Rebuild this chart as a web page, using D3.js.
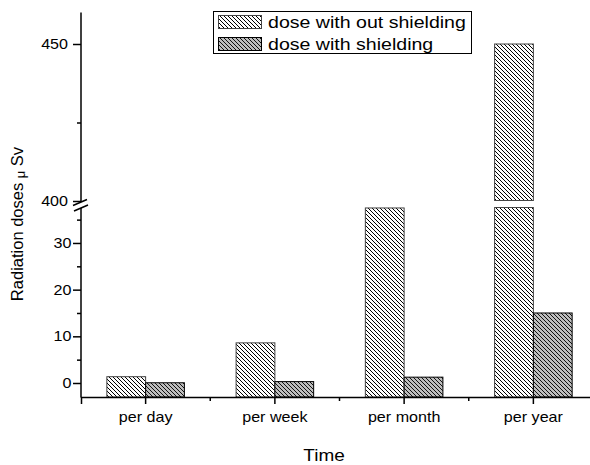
<!DOCTYPE html>
<html>
<head>
<meta charset="utf-8">
<script src="https://cdn.jsdelivr.net/npm/d3@7"></script>
<style>
  body { margin: 0; background: #fff; }
  svg { display: block; font-family: "Liberation Sans", Arial, sans-serif; }
</style>
</head>
<body>
<div id="chart"></div>
<script>
"use strict";

var categories = ["per day", "per week", "per month", "per year"];
var seriesNames = ["dose with out shielding", "dose with shielding"];
var withoutShielding = [1.35, 8.6, 37.5, 450];
var withShielding = [0.05, 0.3, 1.25, 15];
var lowTicks = [0, 10, 20, 30];
var lowMinor = [5, 15, 25, 35];
var highTicks = [400, 450];
var highMinor = [425];

var width = 590, height = 465;
var stretch = 1.15;

var svg = d3.select("#chart").append("svg")
  .attr("width", width)
  .attr("height", height);

var defs = svg.append("defs");

function hatch(id, bg, lineColor) {
  var p = defs.append("pattern")
    .attr("id", id)
    .attr("patternUnits", "userSpaceOnUse")
    .attr("width", 4)
    .attr("height", 4);
  p.append("rect").attr("width", 4).attr("height", 4).attr("fill", bg);
  p.append("path")
    .attr("d", "M-1,-1 L5,5 M-1,3 L1,5 M3,-1 L5,1")
    .attr("stroke", lineColor)
    .attr("stroke-width", 1.1)
    .attr("shape-rendering", "crispEdges");
}
hatch("hatch-white", "#fff", "#000");
hatch("hatch-gray", "#bdbdbd", "#111");

var fills = ["url(#hatch-white)", "url(#hatch-gray)"];
var strokes = ["#444", "#000"];

// x scale
var x = d3.scaleBand().domain(categories).range([81, 598]).padding(0);
var xs = d3.scaleBand().domain(seriesNames).range([x.bandwidth() * 0.2, x.bandwidth() * 0.8]).padding(0);

// broken y axis: low and high segments
var yLow = d3.scaleLinear().domain([-3, 37.6]).range([397, 207.5]);
var yHigh = d3.scaleLinear().domain([400, 460]).range([201, 12.6]);
var lowTop = 37.6, highBottom = 400;

var data = [];
categories.forEach(function(c, i) {
  data.push({cat: c, s: seriesNames[0], v: withoutShielding[i], k: 0});
  data.push({cat: c, s: seriesNames[1], v: withShielding[i], k: 1});
});

var bars = svg.append("g");
// low segment parts
bars.selectAll("rect.low")
  .data(data)
  .enter()
  .append("rect")
  .attr("class", "low")
  .attr("x", function(d) { return x(d.cat) + xs(d.s); })
  .attr("width", xs.bandwidth())
  .attr("y", function(d) { return yLow(Math.min(d.v, lowTop)); })
  .attr("height", function(d) { return yLow(-3) - yLow(Math.min(d.v, lowTop)); })
  .attr("fill", function(d) { return fills[d.k]; })
  .attr("stroke", function(d) { return strokes[d.k]; })
  .attr("stroke-width", 1);

// high segment parts
bars.selectAll("rect.high")
  .data(data.filter(function(d) { return d.v > highBottom; }))
  .enter()
  .append("rect")
  .attr("class", "high")
  .attr("x", function(d) { return x(d.cat) + xs(d.s); })
  .attr("width", xs.bandwidth())
  .attr("y", function(d) { return yHigh(d.v); })
  .attr("height", function(d) { return yHigh(highBottom) - yHigh(d.v) - 0.5; })
  .attr("fill", function(d) { return fills[d.k]; })
  .attr("stroke", function(d) { return strokes[d.k]; })
  .attr("stroke-width", 1);

function stretchText(sel, dx) {
  sel.attr("x", null)
    .attr("transform", "translate(" + dx + ",0) scale(" + stretch + ",1)");
}

// y axes
var gLow = svg.append("g").attr("transform", "translate(81,0)")
  .call(d3.axisLeft(yLow).tickValues(lowTicks).tickSize(8).tickPadding(2));
var gLowMinor = svg.append("g").attr("transform", "translate(81,0)")
  .call(d3.axisLeft(yLow).tickValues(lowMinor).tickSize(4).tickFormat(""));
var gHigh = svg.append("g").attr("transform", "translate(81,0)")
  .call(d3.axisLeft(yHigh).tickValues(highTicks).tickSize(8).tickPadding(2));
var gHighMinor = svg.append("g").attr("transform", "translate(81,0)")
  .call(d3.axisLeft(yHigh).tickValues(highMinor).tickSize(4).tickFormat(""));

[gLow, gLowMinor, gHigh, gHighMinor].forEach(function(g) {
  g.select(".domain").remove();
  g.selectAll("line").attr("stroke", "#000").attr("stroke-width", 1.5);
  g.selectAll("text").attr("font-size", 14).attr("fill", "#000")
    .attr("font-family", "Liberation Sans, Arial, sans-serif");
});
stretchText(gLow.selectAll("text"), -9.5);
stretchText(gHigh.selectAll("text"), -13);

// y axis lines with break
svg.append("line").attr("x1", 81).attr("x2", 81).attr("y1", yHigh(460)).attr("y2", 202)
  .attr("stroke", "#000").attr("stroke-width", 1.5);
svg.append("line").attr("x1", 81).attr("x2", 81).attr("y1", 208).attr("y2", 397.5)
  .attr("stroke", "#000").attr("stroke-width", 1.5);
svg.append("path")
  .attr("d", "M73,205.5 L87,199.5 M74,211 L88,205")
  .attr("stroke", "#000").attr("stroke-width", 1.5).attr("fill", "none");

// x axis
var gx = svg.append("g").attr("transform", "translate(0,397)")
  .call(d3.axisBottom(x).tickSize(7).tickPadding(11));
gx.select(".domain").attr("stroke", "#000").attr("stroke-width", 1.5);
gx.selectAll("line").attr("stroke", "#000").attr("stroke-width", 1.5);
gx.selectAll("text").attr("font-size", 14).attr("fill", "#000")
  .attr("font-family", "Liberation Sans, Arial, sans-serif")
  .attr("y", null).attr("dy", null)
  .attr("transform", "translate(0,24.5) scale(" + stretch + ",1)");

// minor x ticks between categories
svg.append("g").selectAll("line")
  .data(categories.slice(1))
  .enter()
  .append("line")
  .attr("x1", function(d) { return x(d); })
  .attr("x2", function(d) { return x(d); })
  .attr("y1", 397)
  .attr("y2", 401)
  .attr("stroke", "#000")
  .attr("stroke-width", 1.5);

// axis titles
svg.append("text")
  .attr("transform", "translate(324,461) scale(" + stretch + ",1)")
  .attr("text-anchor", "middle")
  .attr("font-size", 16.5)
  .text("Time");

var yt = svg.append("text")
  .attr("transform", "translate(23,224) rotate(-90)")
  .attr("text-anchor", "middle")
  .attr("font-size", 16.5);
yt.append("tspan").text("Radiation doses ");
yt.append("tspan").attr("font-size", 13).attr("dy", 2).text("\u03bc");
yt.append("tspan").attr("dy", -2).text(" Sv");

// legend
var legend = svg.append("g");
legend.append("rect")
  .attr("x", 213.5).attr("y", 11.5)
  .attr("width", 258).attr("height", 42)
  .attr("fill", "#fff").attr("stroke", "#000").attr("stroke-width", 1);

var item = legend.selectAll("g.item")
  .data(seriesNames)
  .enter()
  .append("g")
  .attr("class", "item")
  .attr("transform", function(d, i) { return "translate(0," + (i * 22) + ")"; });

item.append("rect")
  .attr("x", 218.5).attr("y", 15.5)
  .attr("width", 43).attr("height", 13)
  .attr("fill", function(d, i) { return fills[i]; })
  .attr("stroke", function(d, i) { return strokes[i]; })
  .attr("stroke-width", 1);

item.append("text")
  .attr("transform", "translate(268,28) scale(1.2,1)")
  .attr("font-size", 16.3)
  .text(function(d) { return d; });
</script>
</body>
</html>
